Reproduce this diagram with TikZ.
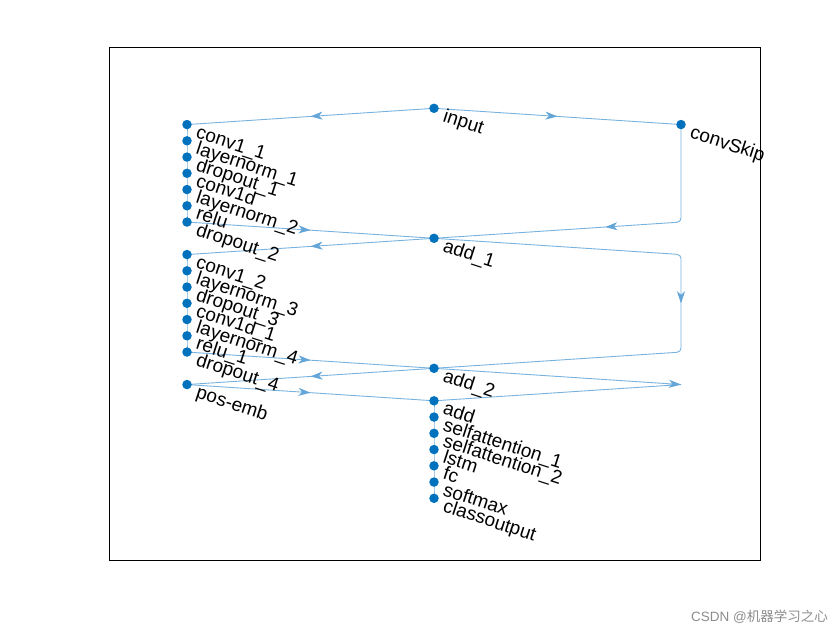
\documentclass[tikz,border=0pt]{standalone}
\usepackage{fontspec}
\setmainfont{Liberation Sans}
\newfontfamily\cjkfont{Noto Sans CJK SC}
\usetikzlibrary{arrows.meta,decorations.markings,backgrounds}
\definecolor{nodeblue}{RGB}{0,114,189}
\definecolor{edgeblue}{RGB}{120,178,222}
\definecolor{arrowblue}{RGB}{100,165,215}
\tikzset{
  dot/.style={circle,fill=nodeblue,inner sep=0pt,minimum size=9.5pt},
  lbl/.style={anchor=base west,inner sep=0pt,rotate=-18,font=\fontsize{19}{19}\selectfont},
  edge/.style={draw=edgeblue,line width=0.9pt,rounded corners=4pt},
  midarrow/.style={edge,postaction={decorate},
    decoration={markings,mark=at position 0.5 with {\arrow[arrowblue]{Stealth[length=12pt,width=8pt,inset=3.5pt]}}}}
}
\newcommand{\lay}[4]{%
  \node[dot] (#1) at (#2,#3) {};
  \node[lbl] (#1-l) at ([shift={(8,13)}]#1.center) {#4};
}
\begin{document}
\begin{tikzpicture}[x=1pt,y=-1pt]
\useasboundingbox (0,0) rectangle (840,630);
\draw[black,line width=0.8pt] (109,47) rectangle (760,560);
% levels: y = 108.3 + (k-1)*16.25
\lay{input}{434}{108.3}{input}
\lay{convSkip}{681}{124.55}{convSkip}
\lay{conv1_1}{187}{124.55}{conv1\_1}
\lay{layernorm_1}{187}{140.8}{layernorm\_1}
\lay{dropout_1}{187}{157.05}{dropout\_1}
\lay{conv1d}{187}{173.3}{conv1d}
\lay{layernorm_2}{187}{189.55}{layernorm\_2}
\lay{relu}{187}{205.8}{relu}
\lay{dropout_2}{187}{222.05}{dropout\_2}
\lay{add_1}{434}{238.3}{add\_1}
\lay{conv1_2}{187}{254.55}{conv1\_2}
\lay{layernorm_3}{187}{270.8}{layernorm\_3}
\lay{dropout_3}{187}{287.05}{dropout\_3}
\lay{conv1d_1}{187}{303.3}{conv1d\_1}
\lay{layernorm_4}{187}{319.55}{layernorm\_4}
\lay{relu_1}{187}{335.8}{relu\_1}
\lay{dropout_4}{187}{352.05}{dropout\_4}
\lay{add_2}{434}{368.3}{add\_2}
\lay{posemb}{187}{384.55}{pos-emb}
\lay{add}{434}{400.8}{add}
\lay{selfattention_1}{434}{417.05}{selfattention\_1}
\lay{selfattention_2}{434}{433.3}{selfattention\_2}
\lay{lstm}{434}{449.55}{lstm}
\lay{fc}{434}{465.8}{fc}
\lay{softmax}{434}{482.05}{softmax}
\lay{classoutput}{434}{498.3}{classoutput}
\coordinate (skipA) at (681,222.05);
\coordinate (skipB) at (681,254.55);
\coordinate (skipC) at (681,352.05);
\coordinate (skipD) at (681,384.55);
\begin{scope}[on background layer]
  \draw[midarrow] (input.center) -- (conv1_1.center);
  \draw[midarrow] (input.center) -- (convSkip.center);
  \draw[edge] (conv1_1.center) -- (layernorm_1.center) -- (dropout_1.center) -- (conv1d.center) -- (layernorm_2.center) -- (relu.center) -- (dropout_2.center);
  \draw[midarrow] (dropout_2.center) -- (add_1.center);
  \draw[midarrow] (convSkip.center) -- (skipA) -- (add_1.center);
  \draw[midarrow] (add_1.center) -- (conv1_2.center);
  \draw[edge] (conv1_2.center) -- (layernorm_3.center) -- (dropout_3.center) -- (conv1d_1.center) -- (layernorm_4.center) -- (relu_1.center) -- (dropout_4.center);
  \draw[midarrow] (dropout_4.center) -- (add_2.center);
  \draw[midarrow] (add_1.center) -- (skipB) -- (skipC) -- (add_2.center);
  \draw[midarrow] (add_2.center) -- (posemb.center);
  \draw[midarrow,sharp corners] (add_2.center) -- (skipD) -- (add.center);
  \draw[midarrow] (posemb.center) -- (add.center);
  \draw[edge] (add.center) -- (selfattention_1.center) -- (selfattention_2.center) -- (lstm.center) -- (fc.center) -- (softmax.center) -- (classoutput.center);
\end{scope}
\node[anchor=base east,inner sep=0pt,text=black!45,font=\fontsize{13.5}{13.5}\selectfont] (footer) at (828,621) {CSDN @{\cjkfont 机器学习之心}};
\end{tikzpicture}
\end{document}
